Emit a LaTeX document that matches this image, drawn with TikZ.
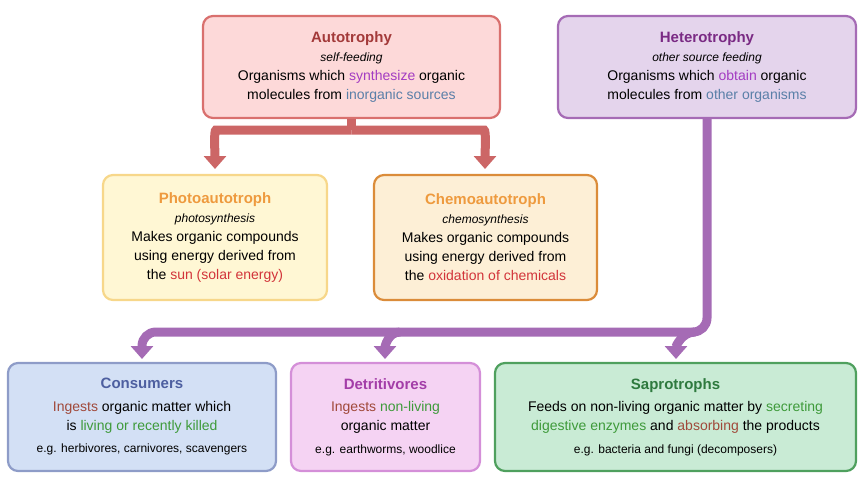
\documentclass[tikz,border=0pt]{standalone}
\usepackage{fontspec}
\setmainfont{Liberation Sans}
\usetikzlibrary{arrows.meta}
\definecolor{autofill}{HTML}{FDD9D9}\definecolor{autoline}{HTML}{D9706E}\definecolor{autotxt}{HTML}{A33A3A}
\definecolor{hetfill}{HTML}{E4D4EC}\definecolor{hetline}{HTML}{A56BB5}\definecolor{hettxt}{HTML}{7A2A84}
\definecolor{photofill}{HTML}{FFF7D4}\definecolor{photoline}{HTML}{F7D78A}\definecolor{orangetxt}{HTML}{EE9A3E}
\definecolor{chemofill}{HTML}{FDEFD6}\definecolor{chemoline}{HTML}{DB8C3A}
\definecolor{consfill}{HTML}{D3E0F5}\definecolor{consline}{HTML}{8E9CC8}\definecolor{constxt}{HTML}{4D5FA0}
\definecolor{detfill}{HTML}{F5D3F3}\definecolor{detline}{HTML}{D48FD8}\definecolor{dettxt}{HTML}{A33DA8}
\definecolor{sapfill}{HTML}{C9EBD5}\definecolor{sapline}{HTML}{4FA05E}\definecolor{saptxt}{HTML}{2E7A3E}
\definecolor{hlpurple}{HTML}{A33CC2}\definecolor{hlblue}{HTML}{5A7FA8}\definecolor{hlred}{HTML}{D2343A}
\definecolor{hlbrown}{HTML}{A0493A}\definecolor{hlgreen}{HTML}{3E9A3A}
\definecolor{redarrow}{HTML}{CC6666}\definecolor{purplearrow}{HTML}{A56BB5}
\tikzset{%
    box/.style={draw,line width=2.2pt,rounded corners=10pt,align=center,inner sep=0pt,
        font=\fontsize{14}{19}\selectfont},
    ttl/.style={font=\fontsize{15}{19}\selectfont\bfseries},
    flow/.style={line width=9pt,rounded corners=14pt,-{Triangle[width=22pt,length=13pt]}}
}
\newcommand{\sub}[1]{{\fontsize{12}{19}\selectfont\itshape #1}}
\newcommand{\eg}[1]{{\fontsize{12}{19}\selectfont #1}}
\begin{document}
\begin{tikzpicture}[x=1pt,y=1pt]
    \useasboundingbox (0,0) rectangle (860,-483);
    \node[box,fill=autofill,draw=autoline,minimum width=297pt,minimum height=102pt] (auto) at (351.5,-67)
        {\textcolor{autotxt}{\bfseries\fontsize{15}{19}\selectfont Autotrophy}\\ \sub{self-feeding}\\
         Organisms which \textcolor{hlpurple}{synthesize} organic\\ molecules from \textcolor{hlblue}{inorganic sources}};
    \node[box,fill=hetfill,draw=hetline,minimum width=298pt,minimum height=102pt] (het) at (707,-67)
        {\textcolor{hettxt}{\bfseries\fontsize{15}{19}\selectfont Heterotrophy}\\ \sub{other source feeding}\\
         Organisms which \textcolor{hlpurple}{obtain} organic\\ molecules from \textcolor{hlblue}{other organisms}};
    \node[box,fill=photofill,draw=photoline,minimum width=224pt,minimum height=125pt] (photo) at (215,-237.5)
        {\textcolor{orangetxt}{\bfseries\fontsize{15}{19}\selectfont Photoautotroph}\\ \sub{photosynthesis}\\
         Makes organic compounds\\ using energy derived from\\ the \textcolor{hlred}{sun (solar energy)}};
    \node[box,fill=chemofill,draw=chemoline,minimum width=223pt,minimum height=125pt] (chemo) at (485.5,-237.5)
        {\textcolor{orangetxt}{\bfseries\fontsize{15}{19}\selectfont Chemoautotroph}\\ \sub{chemosynthesis}\\
         Makes organic compounds\\ using energy derived from\\ the \textcolor{hlred}{oxidation of chemicals}};
    \node[box,fill=consfill,draw=consline,minimum width=268pt,minimum height=108pt] (cons) at (142,-417)
        {\textcolor{constxt}{\bfseries\fontsize{15}{19}\selectfont Consumers}\\[3pt]
         \textcolor{hlbrown}{Ingests} organic matter which\\ is \textcolor{hlgreen}{living or recently killed}\\[4pt]
         \eg{e.g. herbivores, carnivores, scavengers}};
    \node[box,fill=detfill,draw=detline,minimum width=189pt,minimum height=108pt] (det) at (385.5,-417)
        {\textcolor{dettxt}{\bfseries\fontsize{15}{19}\selectfont Detritivores}\\[3pt]
         \textcolor{hlbrown}{Ingests} \textcolor{hlgreen}{non-living}\\ organic matter\\[4pt]
         \eg{e.g. earthworms, woodlice}};
    \node[box,fill=sapfill,draw=sapline,minimum width=361pt,minimum height=108pt] (sap) at (675.5,-417)
        {\textcolor{saptxt}{\bfseries\fontsize{15}{19}\selectfont Saprotrophs}\\[3pt]
         Feeds on non-living organic matter by \textcolor{hlgreen}{secreting}\\
         \textcolor{hlgreen}{digestive enzymes} and \textcolor{hlbrown}{absorbing} the products\\[4pt]
         \eg{e.g. bacteria and fungi (decomposers)}};

    % branch points
    \coordinate (autofork) at (351.5,-130);
    \coordinate (hetbend) at (707,-332);

    \draw[line width=9pt,redarrow] (auto.south) -- (autofork);
    \draw[flow,redarrow] (autofork) -- (230,-130) to[out=180,in=90] (215,-169);
    \draw[flow,redarrow] (autofork) -- (470,-130) to[out=0,in=90] (485,-169);

    \draw[flow,purplearrow] (het.south) -- (hetbend) -| (142,-359);
    \draw[flow,purplearrow] (400,-332) to[out=180,in=90] (385,-359);
    \draw[flow,purplearrow] (695,-332) to[out=180,in=90] (676,-359);
\end{tikzpicture}
\end{document}
